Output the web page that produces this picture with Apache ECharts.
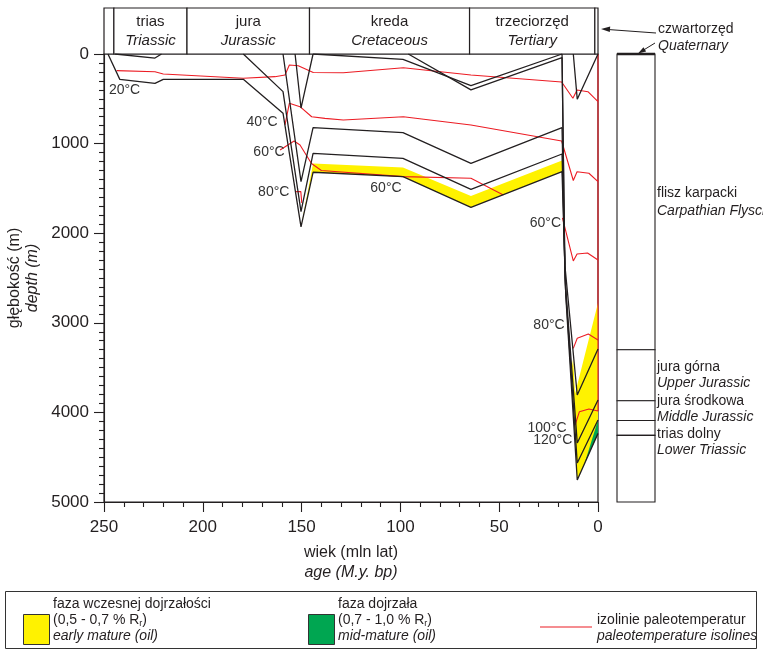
<!DOCTYPE html>
<html><head><meta charset="utf-8">
<script src="https://cdn.jsdelivr.net/npm/echarts@6/dist/echarts.min.js"></script>
<style>html,body{margin:0;padding:0;background:#fff}#c{width:763px;height:653px}</style>
</head><body><div id="c"></div>
<script>
const FONT = "'Liberation Sans',Arial,sans-serif";
const INK = '#231f20';
const RED = '#ec1c24';

// ---- data ----
const ageTickLabels = [250, 200, 150, 100, 50, 0];
const depthTickLabels = [0, 1000, 2000, 3000, 4000, 5000];

const periodStart = [250, 245, 208, 146, 65, 1.6];
const periodEnd   = [245, 208, 146, 65, 1.6, 0];
const periodPL = ['', 'trias', 'jura', 'kreda', 'trzeciorzęd', ''];
const periodEN = ['', 'Triassic', 'Jurassic', 'Cretaceous', 'Tertiary', ''];

const unitTop    = [0, 3300, 3870, 4090, 4256];
const unitBottom = [3300, 3870, 4090, 4256, 5000];
const unitPL = ['flisz karpacki', 'jura górna', 'jura środkowa', 'trias dolny', ''];
const unitEN = ['Carpathian Flysch', 'Upper Jurassic', 'Middle Jurassic', 'Lower Triassic', ''];

// burial curves [age Ma, depth m]
const triasTop   = [[244.4,0],[224.2,45],[220.9,0]];
const baseLine   = [[248,0],[242,283],[224.2,327],[220,283],[179.5,283],[159.4,660],[150.3,1930],[144.2,1320],[98.7,1369],[64.3,1711],[18.2,1313],[16.3,2700],[10.5,4754],[0,4234]];
const midJurLine = [[179.5,0],[159.4,420],[150.3,1760],[144.2,1108],[98.7,1164],[64.3,1510],[18.2,1116],[16.5,2600],[10.5,4565],[0,4085]];
const upJurLine  = [[159.4,0],[150.3,1425],[144.2,822],[98.7,878],[64.3,1220],[18.2,822],[16.7,2500],[10.5,4342],[0,3862]];
const jurTop     = [[153.3,0],[150.3,603],[144.2,0]];
const cretTop    = [[144.2,0],[98.7,60],[64.3,354],[18.2,0],[16.8,2350],[10.5,3806],[0,3292]];
const cretUpper  = [[96,0],[64.3,400],[18.2,40],[16.8,2350]];
const molasse    = [[12.5,0],[10.5,505],[0,0]];

// isotherms
const iso20  = [[243.6,186],[224.2,198],[220,223],[179.5,271],[163.5,253],[158.4,234],[156.2,123],[151.7,131],[144.1,206],[128.9,209],[98.5,153],[64.3,234],[18.4,313],[12.7,494],[10.6,402],[5.1,421],[0,532],[0,0]];
const iso40  = [[158.4,792],[156.2,550],[150.8,588],[144.9,700],[138.2,718],[128.9,737],[98.5,700],[64.3,792],[18.4,971],[12.5,1412],[10.6,1314],[4.6,1331],[0,1425],[0,532]];
const iso60a = [[160.9,1071],[153.8,971],[150.8,1016],[145,1222],[140,1300],[98.5,1369],[64.3,1387],[47.9,1574]];
const iso60b = [[18.0,1830],[12.5,2310],[10.6,2232],[5.3,2221],[0,2299],[0,1425]];
const iso80a = [[152.8,1536],[150.4,1536],[149.9,1663]];
const iso80b = [[12.5,3285],[10.5,3173],[4.9,3125],[0,3192],[0,2299]];
const iso100 = [[11.6,4141],[9.4,3992],[4.6,3962],[0,3984],[0,3192]];

// maturity zones
const earlyMatureA = [[150.3,1930],[144.2,1222],[98.7,1267],[64.3,1585],[18.2,1188],[18.2,1313],[64.3,1711],[98.7,1369],[144.2,1320]];
const earlyMatureB = [[0,2780],[11.6,3790],[12.6,3400],[13.4,3520],[10.5,4754],[0,4234]];
const midMature    = [[6.8,4570],[0,4085],[0,4240]];

// temperature labels
const tLabAge   = [239.6, 170.0, 166.5, 164.1, 107.3, 26.6, 24.8, 25.8, 22.9];
const tLabDepth = [402, 764, 1090, 1537, 1499, 1883, 3025, 4174, 4308];
const tLabText  = ['20°C','40°C','60°C','80°C','60°C','60°C','80°C','100°C','120°C'];

// ---- chart ----
const chart = echarts.init(document.getElementById('c'), null, {renderer: 'canvas'});

function polySeries(pts, color) {
  return {
    type: 'custom', xAxisIndex: 0, yAxisIndex: 0, z: 1, clip: true, silent: true,
    data: pts,
    renderItem: function (params, api) {
      if (params.dataIndex !== 0) return;
      return {type: 'polygon', shape: {points: pts.map(p => api.coord(p))},
              style: {fill: color, stroke: null}};
    }
  };
}
function lineSeries(pts, color, w, z) {
  return {type: 'line', xAxisIndex: 0, yAxisIndex: 0, data: pts, symbol: 'none', z: z,
          silent: true, lineStyle: {color: color, width: w}, clip: true};
}
function hiddenAxis(gi, min, max, inverse) {
  return {type: 'value', gridIndex: gi, min: min, max: max, inverse: !!inverse, show: false,
          axisLine: {show: false, onZero: false}, axisTick: {show: false}, minorTick: {show: false},
          axisLabel: {show: false}, splitLine: {show: false}, minorSplitLine: {show: false}};
}

const tickStyle = {color: INK, width: 1.1};
const txt = (x, y, t, italic, size) => ({type: 'text', x: x, y: y, silent: true,
  style: {text: t, fill: INK, font: (italic ? 'italic ' : '') + (size || 14) + 'px ' + FONT, verticalAlign: 'middle'}});

const graphic = [
  // legend frame
  {type: 'rect', shape: {x: 5.5, y: 591.5, width: 751, height: 57}, style: {fill: 'none', stroke: '#333', lineWidth: 1}},
  {type: 'rect', shape: {x: 23.5, y: 614.5, width: 26, height: 30}, style: {fill: '#fff200', stroke: '#333', lineWidth: 1}},
  txt(53, 604, 'faza wczesnej dojrzałości'),
  {type: 'text', x: 53, y: 620, style: {text: '(0,5 - 0,7 % R{s|r})', fill: INK, font: '14px ' + FONT, verticalAlign: 'middle',
     rich: {s: {fontSize: 9, fontFamily: FONT, fill: INK, padding: [7, 0, 0, 0]}}}},
  txt(53, 636, 'early mature (oil)', true),
  {type: 'rect', shape: {x: 308.5, y: 614.5, width: 26, height: 30}, style: {fill: '#00a651', stroke: '#333', lineWidth: 1}},
  txt(338, 604, 'faza dojrzała'),
  {type: 'text', x: 338, y: 620, style: {text: '(0,7 - 1,0 % R{s|r})', fill: INK, font: '14px ' + FONT, verticalAlign: 'middle',
     rich: {s: {fontSize: 9, fontFamily: FONT, fill: INK, padding: [7, 0, 0, 0]}}}},
  txt(338, 636, 'mid-mature (oil)', true),
  {type: 'line', shape: {x1: 540, y1: 627, x2: 592, y2: 627}, style: {stroke: RED, lineWidth: 1.2}},
  txt(597, 620, 'izolinie paleotemperatur'),
  txt(597, 636, 'paleotemperature isolines', true),
  // quaternary labels and arrows
  txt(658, 29, 'czwartorzęd'),
  txt(658, 46, 'Quaternary', true),
  {type: 'polyline', shape: {points: [[656, 33], [608, 29.5]]}, style: {stroke: INK, lineWidth: 1}},
  {type: 'polygon', shape: {points: [[601, 29], [610.2, 26.6], [609.8, 32.1]]}, style: {fill: INK}},
  {type: 'polyline', shape: {points: [[655, 43], [643, 50.4]]}, style: {stroke: INK, lineWidth: 1}},
  {type: 'polygon', shape: {points: [[638, 53.5], [646.1, 51.4], [643.5, 47.2]]}, style: {fill: INK}},
  // stratigraphic column labels
  txt(657, 193, unitPL[0]), txt(657, 211, unitEN[0], true),
  txt(657, 367, unitPL[1]), txt(657, 383, unitEN[1], true),
  txt(657, 401, unitPL[2]), txt(657, 417, unitEN[2], true),
  txt(657, 434, unitPL[3]), txt(657, 450, unitEN[3], true)
];

const option = {
  animation: false,
  backgroundColor: '#fff',
  textStyle: {fontFamily: FONT},
  grid: [
    {left: 104, top: 54, width: 494, height: 448, show: true, borderColor: INK, borderWidth: 1.2,
     backgroundColor: 'transparent', outerBoundsMode: 'none', containLabel: false},
    {left: 104, top: 8, width: 494, height: 46, show: false, outerBoundsMode: 'none', containLabel: false},
    {left: 617, top: 54, width: 38, height: 448, show: false, outerBoundsMode: 'none', containLabel: false}
  ],
  xAxis: [
    {type: 'value', gridIndex: 0, min: 0, max: 250, interval: 50, inverse: true, position: 'bottom',
     axisLine: {show: true, onZero: false, lineStyle: tickStyle},
     axisTick: {show: true, length: 10, lineStyle: tickStyle},
     minorTick: {show: true, splitNumber: 5, length: 5, lineStyle: tickStyle},
     splitLine: {show: false}, minorSplitLine: {show: false},
     axisLabel: {fontSize: 17, color: INK, margin: 17, fontFamily: FONT,
                 formatter: v => ageTickLabels.indexOf(v) >= 0 ? String(v) : ''},
     name: '{a|wiek (mln lat)}\n{b|age (M.y. bp)}', nameLocation: 'middle', nameGap: 41,
     nameTextStyle: {rich: {a: {fontSize: 16, fontFamily: FONT, color: INK, lineHeight: 20},
                            b: {fontSize: 16, fontFamily: FONT, fontStyle: 'italic', color: INK, lineHeight: 20}}}},
    hiddenAxis(1, 0, 250, true),
    hiddenAxis(2, 0, 1, false)
  ],
  yAxis: [
    {type: 'value', gridIndex: 0, min: 0, max: 5000, interval: 1000, inverse: true, position: 'left',
     axisLine: {show: true, onZero: false, lineStyle: tickStyle},
     axisTick: {show: true, length: 10, lineStyle: tickStyle},
     minorTick: {show: true, splitNumber: 10, length: 5, lineStyle: tickStyle},
     splitLine: {show: false}, minorSplitLine: {show: false},
     axisLabel: {fontSize: 17, color: INK, margin: 15, fontFamily: FONT,
                 formatter: v => depthTickLabels.indexOf(v) >= 0 ? String(v) : ''},
     name: '{a|głębokość (m)}\n{b|depth (m)}', nameLocation: 'middle', nameGap: 52, nameRotate: 90,
     nameTextStyle: {rich: {a: {fontSize: 16, fontFamily: FONT, color: INK, lineHeight: 18},
                            b: {fontSize: 16, fontFamily: FONT, fontStyle: 'italic', color: INK, lineHeight: 18}}}},
    hiddenAxis(1, 0, 1, false),
    hiddenAxis(2, 0, 5000, true)
  ],
  graphic: graphic,
  series: [
    polySeries(earlyMatureA, '#fff200'),
    polySeries(earlyMatureB, '#fff200'),
    polySeries(midMature, '#00a651'),
    lineSeries(iso20, RED, 1.1, 2), lineSeries(iso40, RED, 1.1, 2),
    lineSeries(iso60a, RED, 1.1, 2), lineSeries(iso60b, RED, 1.1, 2),
    lineSeries(iso80a, RED, 1.1, 2), lineSeries(iso80b, RED, 1.1, 2),
    lineSeries(iso100, RED, 1.1, 2),
    lineSeries(triasTop, INK, 1.3, 3), lineSeries(baseLine, INK, 1.3, 3),
    lineSeries(midJurLine, INK, 1.3, 3), lineSeries(upJurLine, INK, 1.3, 3),
    lineSeries(jurTop, INK, 1.3, 3), lineSeries(cretTop, INK, 1.3, 3),
    lineSeries(cretUpper, INK, 1.3, 3), lineSeries(molasse, INK, 1.3, 3),
    {
      type: 'custom', xAxisIndex: 0, yAxisIndex: 0, z: 4, clip: false, silent: true,
      data: tLabAge.map((a, i) => [a, tLabDepth[i], i]),
      renderItem: function (params, api) {
        const p = api.coord([api.value(0), api.value(1)]);
        return {type: 'text', x: p[0], y: p[1],
                style: {text: tLabText[api.value(2)], fill: '#333', font: '14px ' + FONT, align: 'center', verticalAlign: 'middle'}};
      }
    },
    {
      type: 'custom', xAxisIndex: 1, yAxisIndex: 1, clip: false, silent: true,
      data: periodStart.map((s, i) => [s, periodEnd[i], i]),
      encode: {x: [0, 1]},
      renderItem: function (params, api) {
        const i = api.value(2);
        const a = api.coord([api.value(0), 0]);
        const b = api.coord([api.value(1), 1]);
        const cx = (a[0] + b[0]) / 2;
        return {type: 'group', children: [
          {type: 'rect', shape: {x: a[0], y: b[1], width: b[0] - a[0], height: a[1] - b[1]},
           style: {fill: '#fff', stroke: INK, lineWidth: 1.2}},
          {type: 'text', x: cx, y: b[1] + 14, style: {text: periodPL[i], fill: INK, font: '15px ' + FONT, align: 'center', verticalAlign: 'middle'}},
          {type: 'text', x: cx, y: b[1] + 33, style: {text: periodEN[i], fill: INK, font: 'italic 15px ' + FONT, align: 'center', verticalAlign: 'middle'}}
        ]};
      }
    },
    {
      type: 'custom', xAxisIndex: 2, yAxisIndex: 2, clip: false, silent: true,
      data: unitTop.map((t, i) => [0, t, unitBottom[i]]),
      renderItem: function (params, api) {
        const a = api.coord([0, api.value(1)]);
        const b = api.coord([1, api.value(2)]);
        const children = [{type: 'rect', shape: {x: a[0], y: a[1], width: b[0] - a[0], height: b[1] - a[1]},
                           style: {fill: '#fff', stroke: INK, lineWidth: 1.1}}];
        if (params.dataIndex === 0) {
          children.push({type: 'line', shape: {x1: a[0], y1: a[1], x2: b[0], y2: a[1]}, style: {stroke: INK, lineWidth: 2.6}});
        }
        return {type: 'group', children: children};
      }
    }
  ]
};
chart.setOption(option);
</script>
</body></html>
